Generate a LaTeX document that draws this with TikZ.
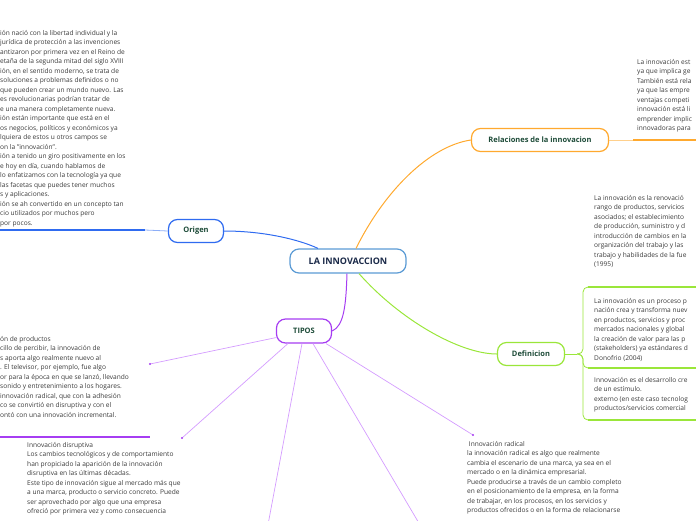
\documentclass[tikz,border=0pt]{standalone}
\usepackage{fontspec}
\setmainfont{Open Sans}
\definecolor{txt}{HTML}{3A3A3A}
\definecolor{lbl}{HTML}{1D4B38}
\definecolor{navy}{HTML}{1B2A49}
\definecolor{rootc}{HTML}{5B9BD5}
\definecolor{bluec}{HTML}{2F6BF0}
\definecolor{orangec}{HTML}{FFA92E}
\definecolor{greenc}{HTML}{9AE63A}
\definecolor{purplec}{HTML}{A63DF2}
\definecolor{lilac}{HTML}{D49CFF}
\tikzset{
  topic/.style={draw, line width=1.2pt, rounded corners=9pt, fill=white, minimum height=23pt,
    font=\fontsize{7.5}{9}\selectfont\bfseries, text=lbl},
  note/.style={anchor=north west, inner sep=0pt, align=left, text=txt,
    font=\fontsize{6.6}{9.5}\selectfont},
  twig/.style={lilac, line width=0.7pt},
  uline/.style={line width=2pt},
}
\begin{document}
\begin{tikzpicture}[x=1pt,y=-1pt]
\useasboundingbox (0,0) rectangle (696,520);
\clip (0,0) rectangle (696,520);

% topics
\node[topic, draw=rootc, minimum width=116pt, minimum height=24pt,
  font=\fontsize{9}{11}\selectfont\bfseries, text=navy] (root) at (348,261) {LA INNOVACCION};
\node[topic, draw=orangec, minimum width=137pt] (rel) at (540,140) {Relaciones de la innovacion};
\node[topic, draw=bluec, minimum width=55pt] (orig) at (196,231) {Origen};
\node[topic, draw=greenc, minimum width=67pt] (defi) at (531,354) {Definicion};
\node[topic, draw=purplec, minimum width=55pt, minimum height=24pt] (tipos) at (304,331) {TIPOS};

% branches from the root
\draw[orangec, line width=1pt] ([xshift=8pt]root.north) .. controls (385,190) and (430,146) .. (rel.west);
\draw[bluec, line width=1pt] (orig.east) .. controls (265,231) and (300,240) .. ([xshift=-30pt]root.north);
\draw[greenc, line width=1pt] ([xshift=11pt]root.south) .. controls (400,320) and (460,354) .. (defi.west);
\draw[purplec, line width=1pt] ([xshift=-1pt]root.south) .. controls (346,305) and (344,326) .. (tipos.east);

% Origen
\coordinate (oend) at (145,230);
\draw[bluec!55, line width=0.8pt] (orig.west) -- (oend);
\draw[bluec, uline] (0,230) -- (oend);
\node[note] (origtxt) at (0,30) {ión nació con la libertad individual y la\\
jurídica de protección a las invenciones\\
antizaron por primera vez en el Reino de\\
etaña de la segunda mitad del siglo XVIII\\
ión, en el sentido moderno, se trata de\\
soluciones a problemas definidos o no\\
que pueden crear un mundo nuevo. Las\\
es revolucionarias podrían tratar de\\
e una manera completamente nueva.\\
ión están importante que está en el\\
os negocios, políticos y económicos ya\\
lquiera de estos u otros campos se\\
on la "innovación".\\
ión a tenido un giro positivamente en los\\
e hoy en día, cuando hablamos de\\
lo enfatizamos con la tecnología ya que\\
las facetas que puedes tener muchos\\
s y aplicaciones.\\
ión se ah convertido en un concepto tan\\
cio utilizados por muchos pero\\
por pocos.};

% Relaciones
\coordinate (rend) at (633,140);
\draw[orangec!55, line width=0.8pt] (rel.east) -- (rend);
\draw[orangec, uline] (rend) -- (696,140);
\node[note] (reltxt) at (637,59) {La innovación est\\
ya que implica ge\\
También está rela\\
ya que las empre\\
ventajas competi\\
innovación está li\\
emprender implic\\
innovadoras para};

% Definicion
\coordinate (dj) at (577,354);
\draw[greenc, line width=0.8pt] (defi.east) -- (dj);
\draw[greenc, line width=0.8pt, rounded corners=5pt] (dj) -| (583,287) -- (590,287);
\draw[greenc, line width=0.8pt, rounded corners=5pt] (dj) -| (583,368) -- (590,368);
\draw[greenc, line width=0.8pt, rounded corners=5pt] (dj) -| (583,420) -- (590,420);
\draw[greenc, uline] (588,287) -- (696,287);
\draw[greenc, uline] (588,368) -- (696,368);
\draw[greenc, uline] (588,420) -- (696,420);
\node[note] (deftxta) at (594,195) {La innovación es la renovació\\
rango de productos, servicios\\
asociados; el establecimiento\\
de producción, suministro y d\\
introducción de cambios en la\\
organización del trabajo y las\\
trabajo y habilidades de la fue\\
(1995)};
\node[note] (deftxtb) at (594,298) {La innovación es un proceso p\\
nación crea y transforma nuev\\
en productos, servicios y proc\\
mercados nacionales y global\\
la creación de valor para las p\\
(stakeholders) ya estándares d\\
Donofrio (2004)};
\node[note] (deftxtc) at (594,377) {Innovación es el desarrollo cre\\
de un estímulo.\\
externo (en este caso tecnolog\\
productos/servicios comercial};

% TIPOS
\coordinate (ta) at (150,364);
\coordinate (tb) at (182,438);
\coordinate (tc) at (267,530);
\coordinate (td) at (423,530);
\coordinate (te) at (473,435);
\draw[twig] ([yshift=6pt]tipos.south west) -- (ta);
\draw[twig] ([xshift=12pt]tipos.south west) -- (tb);
\draw[twig] ([xshift=-2pt]tipos.south) -- (tc);
\draw[twig] ([xshift=9pt]tipos.south) -- (td);
\draw[twig] ([xshift=-6pt]tipos.south east) -- (te);
\foreach \p in {ta,tb,te} \fill[purplec] (\p) circle (1.1pt);
\draw[purplec, uline] (0,437) -- (150,437);
\node[note] (tipa) at (0,336) {ón de productos\\
cillo de percibir, la innovación de\\
s aporta algo realmente nuevo al\\
. El televisor, por ejemplo, fue algo\\
or para la época en que se lanzó, llevando\\
sonido y entretenimiento a los hogares.\\
innovación radical, que con la adhesión\\
co se convirtió en disruptiva y con el\\
ontó con una innovación incremental.};
\node[note] (tipb) at (27,442) {Innovación disruptiva\\
Los cambios tecnológicos y de comportamiento\\
han propiciado la aparición de la innovación\\
disruptiva en las últimas décadas.\\
Este tipo de innovación sigue al mercado más que\\
a una marca, producto o servicio concreto. Puede\\
ser aprovechado por algo que una empresa\\
ofreció por primera vez y como consecuencia};
\node[note] (tipc) at (467,441) {\ Innovación radical\\
la innovación radical es algo que realmente\\
cambia el escenario de una marca, ya sea en el\\
mercado o en la dinámica empresarial.\\
Puede producirse a través de un cambio completo\\
en el posicionamiento de la empresa, en la forma\\
de trabajar, en los procesos, en los servicios y\\
productos ofrecidos o en la forma de relacionarse};
\end{tikzpicture}
\end{document}
